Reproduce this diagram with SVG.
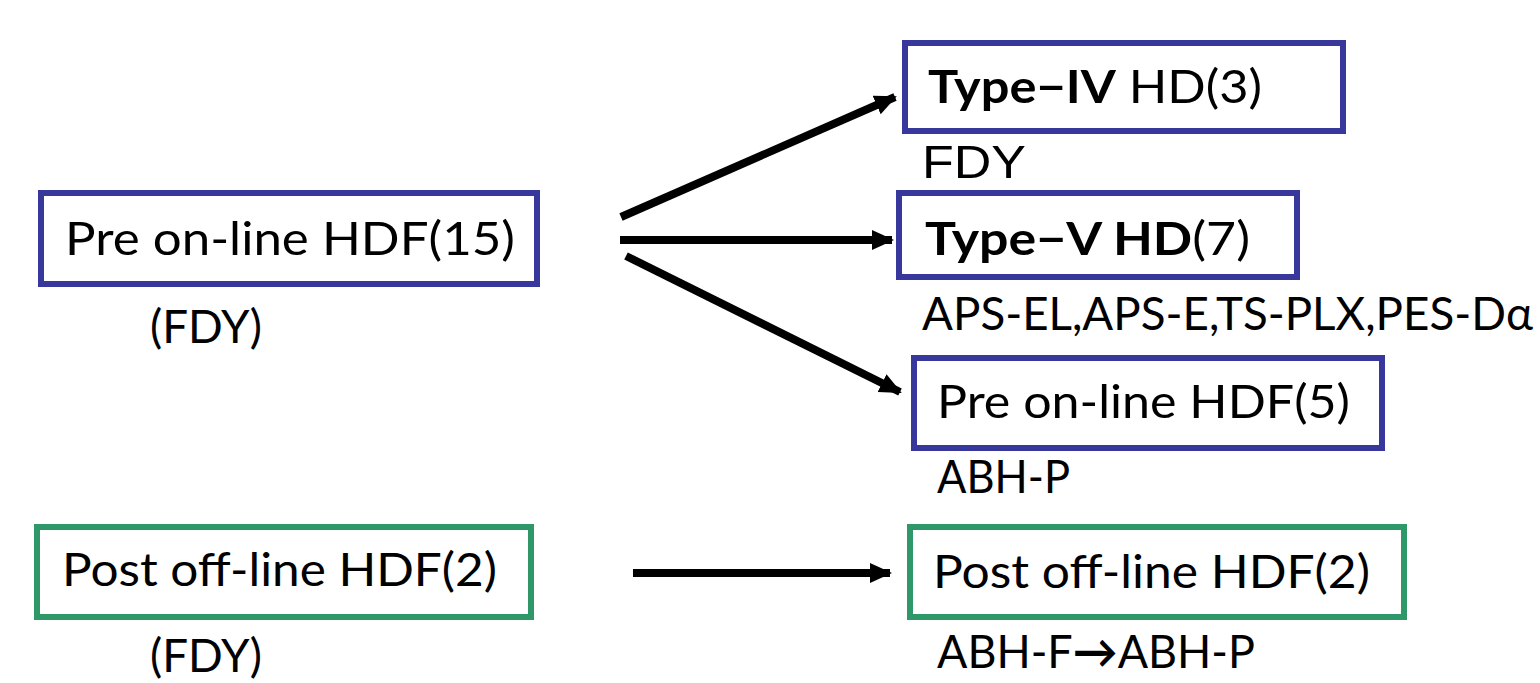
<svg xmlns="http://www.w3.org/2000/svg" width="1540" height="683" viewBox="0 0 1540 683">
<style>
.b{fill:#fff;stroke:#38379b;stroke-width:6}
.g{fill:#fff;stroke:#2f9868;stroke-width:6}
.t{font-family:Lato,"Open Sans","Noto Sans CJK JP",sans-serif;font-size:46px;fill:#000}
.a{font-family:"Liberation Sans",Arial,sans-serif;font-size:47px;fill:#000}
.bold{font-weight:bold}
.c{stroke:#000;stroke-width:8;fill:none;marker-end:url(#ah)}
</style>
<defs>
<marker id="ah" markerUnits="userSpaceOnUse" markerWidth="24" markerHeight="24" refX="20" refY="10" orient="auto">
<path d="M0,0 L22,10 L0,20 Z" fill="#000"/>
</marker>
</defs>
<rect width="1540" height="683" fill="#fff"/>
<g id="connectors">
<line class="c" x1="621" y1="217" x2="895" y2="97"/>
<line class="c" x1="620" y1="240" x2="892" y2="240"/>
<line class="c" x1="626" y1="256" x2="900" y2="392"/>
<line class="c" x1="633" y1="573" x2="890" y2="573"/>
</g>
<g id="pre15">
<rect class="b" x="41" y="193" width="496" height="91"/>
<text class="t" x="65" y="255" textLength="450" lengthAdjust="spacingAndGlyphs">Pre on-line HDF(15)</text>
<text class="t" x="150" y="343" textLength="112" lengthAdjust="spacingAndGlyphs">(FDY)</text>
</g>
<g id="post2left">
<rect class="g" x="37" y="527" width="494" height="90"/>
<text class="t" x="62" y="586" textLength="435" lengthAdjust="spacingAndGlyphs">Post off-line HDF(2)</text>
<text class="t" x="150" y="672" textLength="112" lengthAdjust="spacingAndGlyphs">(FDY)</text>
</g>
<g id="type4">
<rect class="b" x="905" y="43" width="438" height="88"/>
<text class="t" x="928" y="103" textLength="334" lengthAdjust="spacingAndGlyphs"><tspan class="bold">Type−IV</tspan> HD(3)</text>
<text class="a" x="922" y="178" textLength="104" lengthAdjust="spacingAndGlyphs">FDY</text>
</g>
<g id="type5">
<rect class="b" x="899" y="193" width="398" height="84"/>
<text class="t" x="925" y="255" textLength="325" lengthAdjust="spacingAndGlyphs"><tspan class="bold">Type−V HD</tspan>(7)</text>
<text class="t" x="922" y="330" textLength="611" lengthAdjust="spacingAndGlyphs">APS-EL,APS-E,TS-PLX,PES-Dα</text>
</g>
<g id="pre5">
<rect class="b" x="914" y="358" width="468" height="90"/>
<text class="t" x="937" y="418" textLength="413" lengthAdjust="spacingAndGlyphs">Pre on-line HDF(5)</text>
<text class="t" x="937" y="493" textLength="133" lengthAdjust="spacingAndGlyphs">ABH-P</text>
</g>
<g id="post2right">
<rect class="g" x="910" y="527" width="494" height="90"/>
<text class="t" x="933" y="588" textLength="437" lengthAdjust="spacingAndGlyphs">Post off-line HDF(2)</text>
<text class="t" x="937" y="668" textLength="318" lengthAdjust="spacingAndGlyphs">ABH-F<tspan class="bold">→</tspan>ABH-P</text>
</g>
</svg>
